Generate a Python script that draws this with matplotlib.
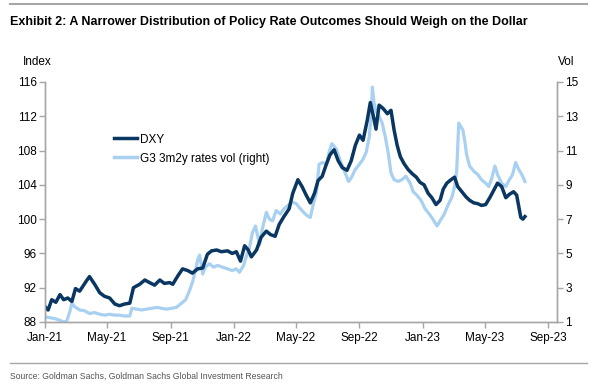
import numpy as np
import pandas as pd
import matplotlib
matplotlib.use('Agg')
import matplotlib.pyplot as plt
import matplotlib.dates as mdates
from matplotlib.lines import Line2D

# DXY index (left axis)
dxy_dates = [
    '2021-01-01', '2021-01-07', '2021-01-14', '2021-01-22', '2021-01-30', '2021-02-06',
    '2021-02-14', '2021-02-22', '2021-03-01', '2021-03-09', '2021-03-21', '2021-03-28',
    '2021-04-07', '2021-04-17', '2021-04-26', '2021-05-06', '2021-05-16', '2021-05-25',
    '2021-06-04', '2021-06-14', '2021-06-21', '2021-07-03', '2021-07-13', '2021-07-22',
    '2021-08-01', '2021-08-11', '2021-08-20', '2021-08-30', '2021-09-05', '2021-09-14',
    '2021-09-24', '2021-10-04', '2021-10-13', '2021-10-23', '2021-11-02', '2021-11-11',
    '2021-11-19', '2021-11-29', '2021-12-08', '2021-12-20', '2021-12-29', '2022-01-06',
    '2022-01-14', '2022-01-22', '2022-01-29', '2022-02-04', '2022-02-14', '2022-02-23',
    '2022-03-05', '2022-03-13', '2022-03-22', '2022-03-30', '2022-04-08', '2022-04-18',
    '2022-04-25', '2022-05-05', '2022-05-13', '2022-05-21', '2022-05-29', '2022-06-06',
    '2022-06-13', '2022-06-21', '2022-06-29', '2022-07-06', '2022-07-14', '2022-07-22',
    '2022-07-30', '2022-08-08', '2022-08-16', '2022-08-24', '2022-09-01', '2022-09-08',
    '2022-09-16', '2022-09-22', '2022-09-28', '2022-10-03', '2022-10-09', '2022-10-17',
    '2022-10-25', '2022-11-01', '2022-11-07', '2022-11-13', '2022-11-19', '2022-11-26',
    '2022-12-04', '2022-12-12', '2022-12-20', '2022-12-27', '2023-01-04', '2023-01-12',
    '2023-01-19', '2023-01-27', '2023-02-04', '2023-02-10', '2023-02-17', '2023-02-25',
    '2023-03-04', '2023-03-10', '2023-03-18', '2023-03-26', '2023-04-02', '2023-04-10',
    '2023-04-18', '2023-04-25', '2023-05-03', '2023-05-11', '2023-05-19', '2023-05-26',
    '2023-06-03', '2023-06-11', '2023-06-18', '2023-06-26', '2023-07-02', '2023-07-06',
    '2023-07-10', '2023-07-14', '2023-07-18',
]
dxy_values = [
    89.8, 89.4, 90.6, 90.3, 91.2, 90.6,
    90.8, 90.4, 91.9, 91.6, 92.7, 93.3,
    92.4, 91.4, 91.0, 90.8, 90.1, 89.9,
    90.1, 90.2, 92.0, 92.4, 92.9, 92.6,
    92.3, 92.9, 92.5, 92.6, 92.4, 93.3,
    94.2, 94.0, 93.7, 94.2, 94.3, 95.9,
    96.3, 96.4, 96.2, 96.3, 96.0, 96.2,
    95.1, 96.9, 96.4, 95.6, 96.4, 97.9,
    98.6, 98.2, 98.0, 99.4, 100.3, 101.2,
    103.0, 104.6, 103.8, 102.8, 101.9, 103.0,
    104.5, 105.0, 106.4, 107.5, 108.1, 106.8,
    106.0, 105.7, 106.8, 108.6, 109.8, 109.2,
    111.5, 113.6, 112.0, 110.5, 113.3, 112.9,
    112.3, 112.7, 110.4, 108.6, 107.3, 106.5,
    105.8, 105.3, 104.9, 104.3, 104.0, 103.0,
    102.5, 101.7, 102.2, 103.5, 104.2, 104.6,
    104.9, 103.8, 103.2, 102.6, 102.2, 101.9,
    101.8, 101.6, 101.7, 102.5, 103.4, 104.2,
    103.8, 102.5, 102.9, 103.2, 102.8, 101.5,
    100.2, 100.0, 100.3,
]

# G3 3m2y rates vol (right axis)
vol_dates = [
    '2021-01-01', '2021-01-10', '2021-01-20', '2021-01-30', '2021-02-06', '2021-02-12',
    '2021-02-18', '2021-02-22', '2021-02-27', '2021-03-09', '2021-03-19', '2021-03-28',
    '2021-04-07', '2021-04-17', '2021-04-26', '2021-05-06', '2021-05-16', '2021-05-25',
    '2021-06-04', '2021-06-14', '2021-06-18', '2021-06-27', '2021-07-07', '2021-07-16',
    '2021-07-26', '2021-08-05', '2021-08-14', '2021-08-24', '2021-09-03', '2021-09-12',
    '2021-09-22', '2021-09-30', '2021-10-07', '2021-10-13', '2021-10-19', '2021-10-23',
    '2021-10-27', '2021-11-02', '2021-11-07', '2021-11-15', '2021-11-23', '2021-12-01',
    '2021-12-10', '2021-12-20', '2021-12-29', '2022-01-06', '2022-01-12', '2022-01-20',
    '2022-01-25', '2022-01-31', '2022-02-06', '2022-02-12', '2022-02-20', '2022-02-25',
    '2022-03-05', '2022-03-11', '2022-03-17', '2022-03-24', '2022-04-01', '2022-04-08',
    '2022-04-16', '2022-04-24', '2022-05-02', '2022-05-07', '2022-05-16', '2022-05-23',
    '2022-05-29', '2022-06-04', '2022-06-10', '2022-06-15', '2022-06-21', '2022-06-29',
    '2022-07-05', '2022-07-10', '2022-07-18', '2022-07-26', '2022-08-03', '2022-08-11',
    '2022-08-16', '2022-08-24', '2022-09-01', '2022-09-08', '2022-09-14', '2022-09-20',
    '2022-09-24', '2022-09-26', '2022-09-29', '2022-10-03', '2022-10-09', '2022-10-15',
    '2022-10-21', '2022-10-27', '2022-11-01', '2022-11-07', '2022-11-15', '2022-11-22',
    '2022-11-30', '2022-12-08', '2022-12-14', '2022-12-21', '2022-12-29', '2023-01-06',
    '2023-01-14', '2023-01-21', '2023-01-29', '2023-02-04', '2023-02-12', '2023-02-19',
    '2023-02-27', '2023-03-04', '2023-03-08', '2023-03-12', '2023-03-16', '2023-03-20',
    '2023-03-24', '2023-03-27', '2023-04-02', '2023-04-10', '2023-04-18', '2023-04-25',
    '2023-05-03', '2023-05-09', '2023-05-15', '2023-05-21', '2023-05-26', '2023-06-03',
    '2023-06-11', '2023-06-16', '2023-06-24', '2023-06-30', '2023-07-06', '2023-07-12',
    '2023-07-18',
]
vol_values = [
    1.3, 1.25, 1.2, 1.1, 1.0, 1.05,
    1.6, 2.1, 1.9, 1.7, 1.65, 1.5,
    1.55, 1.45, 1.4, 1.45, 1.4, 1.4,
    1.35, 1.35, 1.8, 1.75, 1.7, 1.75,
    1.8, 1.85, 1.8, 1.75, 1.8, 1.85,
    2.1, 2.3, 2.8, 3.3, 4.0, 4.6,
    4.9, 3.8, 4.2, 4.4, 4.2, 4.3,
    4.2, 4.1, 4.0, 4.1, 3.9, 4.3,
    4.8, 5.3, 6.2, 6.6, 5.5, 6.4,
    7.4, 7.0, 6.9, 7.5, 7.3, 7.6,
    7.8, 8.0, 7.9, 7.7, 7.4, 7.2,
    7.1, 7.9, 8.6, 10.2, 10.3, 10.2,
    11.0, 11.4, 11.1, 10.4, 9.8, 9.2,
    9.4, 9.9, 10.2, 10.5, 10.9, 11.8,
    13.2, 14.7, 13.8, 13.3, 13.0, 12.6,
    11.8, 10.8, 9.7, 9.3, 9.2, 9.3,
    9.5, 9.1, 8.6, 8.4, 8.1, 7.6,
    7.3, 7.0, 6.6, 6.9, 7.3, 7.8,
    8.3, 8.9, 9.8, 12.6, 12.4, 12.2,
    11.5, 10.8, 10.1, 9.8, 9.6, 9.3,
    9.1, 8.9, 9.4, 10.1, 9.6, 9.1,
    8.9, 9.2, 9.6, 10.3, 9.9, 9.6,
    9.2,
]

tick_dates = pd.date_range('2021-01-01', '2023-09-01', freq='4MS')
left_ticks = [88, 92, 96, 100, 104, 108, 112, 116]
right_ticks = [1, 3, 5, 7, 9, 11, 13, 15]

dark = '#0a3761'
light = '#a8d0f0'
grey = '#a6a6a6'
plt.rcParams['font.family'] = ['Liberation Sans', 'DejaVu Sans']

fig = plt.figure(figsize=(6.01, 3.86), dpi=100)
ax = fig.add_axes([45 / 601, 1 - 322 / 386, 512 / 601, 240 / 386])
ax2 = ax.twinx()

ax2.plot(pd.to_datetime(vol_dates), vol_values, color=light, lw=2.3,
         solid_joinstyle='round')
ax.plot(pd.to_datetime(dxy_dates), dxy_values, color=dark, lw=2.5,
        solid_joinstyle='round')
ax.set_zorder(ax2.get_zorder() + 1)
ax.patch.set_visible(False)

ax.set_xlim(pd.Timestamp('2021-01-01'), pd.Timestamp('2023-09-18'))
ax.set_ylim(88, 116)
ax2.set_ylim(1, 15)
ax.set_yticks(left_ticks)
ax2.set_yticks(right_ticks)
ax.set_xticks(tick_dates)
ax.xaxis.set_major_formatter(mdates.DateFormatter('%b-%y'))

for a in (ax, ax2):
    a.spines['top'].set_visible(False)
    for s in ('left', 'right', 'bottom'):
        a.spines[s].set_color(grey)
        a.spines[s].set_linewidth(1.0)
    a.tick_params(colors=grey, labelcolor='black', labelsize=8.5, length=4,
                  width=1.0, direction='out')
ax.tick_params(axis='x', pad=3)
ax.tick_params(axis='y', pad=2)
ax2.tick_params(axis='y', pad=2)

fig.text(37 / 601, 1 - 62 / 386, 'Index', fontsize=8.5, ha='center', va='center')
fig.text(566 / 601, 1 - 62 / 386, 'Vol', fontsize=8.5, ha='center', va='center')

handles = [Line2D([], [], color=dark, lw=2.5), Line2D([], [], color=light, lw=2.5)]
ax.legend(handles, ['DXY', 'G3 3m2y rates vol (right)'], loc='upper left',
          bbox_to_anchor=(0.125, 0.805), frameon=False, fontsize=8.5,
          handlelength=2.0, handletextpad=0.2, labelspacing=0.6, borderaxespad=0)

fig.text(10 / 601, 1 - 22 / 386,
         'Exhibit 2: A Narrower Distribution of Policy Rate Outcomes Should Weigh on the Dollar',
         fontsize=9, fontweight='bold', ha='left', va='center')
fig.text(10 / 601, 1 - 376 / 386,
         'Source: Goldman Sachs, Goldman Sachs Global Investment Research',
         fontsize=6.2, color='#555555', ha='left', va='center')

fig.add_artist(Line2D([10 / 601, 587 / 601], [1 - 4 / 386, 1 - 4 / 386],
                      color=grey, lw=1.5, transform=fig.transFigure))
fig.add_artist(Line2D([10 / 601, 587 / 601], [1 - 363 / 386, 1 - 363 / 386],
                      color=grey, lw=1.0, transform=fig.transFigure))

fig.savefig('out.png', dpi=100)
